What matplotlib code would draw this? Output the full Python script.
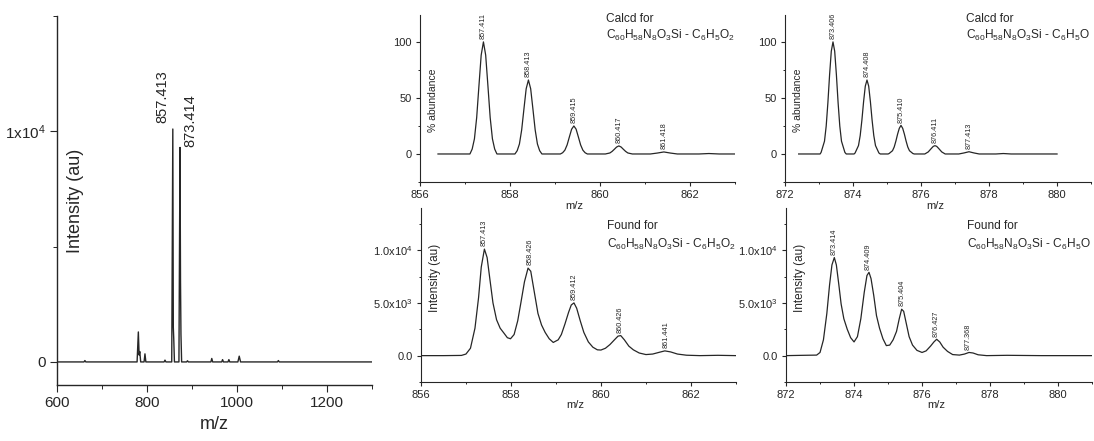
import matplotlib
matplotlib.use('Agg')
import matplotlib.pyplot as plt
from matplotlib.ticker import MultipleLocator

plt.rcParams['font.family'] = ['Liberation Sans', 'DejaVu Sans']
plt.rcParams['mathtext.fontset'] = 'custom'
plt.rcParams['mathtext.rm'] = 'Liberation Sans'
plt.rcParams['mathtext.default'] = 'regular'

ink = '#262626'

# --- full spectrum (left) ---
overview_mz = [600, 660, 662, 664, 778, 780.8, 782.5, 784, 786, 793.5, 795.5, 797.5,
               838, 840, 842, 855, 857.4, 858.5, 859.5, 861, 871, 873.4, 874.5, 875.5,
               877, 888, 890, 892, 942, 944, 946, 966, 968, 970, 980, 982, 984,
               1002, 1005, 1008, 1090, 1092, 1094, 1300]
overview_int = [0, 0, 60, 0, 0, 1300, 300, 450, 0, 0, 350, 0,
                0, 80, 0, 0, 10100, 1500, 1000, 0, 0, 9300, 3500, 1200,
                0, 0, 50, 0, 0, 150, 0, 0, 100, 0, 0, 100, 0,
                0, 250, 0, 0, 60, 0, 0]
overview_peaks = [857.413, 873.414]
overview_peak_int = [10100, 9300]

# --- calculated isotope pattern, M - C6H5O2 ---
calcd857_mz = [856.40, 857.00,
               857.11, 857.16, 857.21, 857.26, 857.31, 857.36, 857.41, 857.46, 857.51, 857.56, 857.61, 857.66, 857.71,
               858.11, 858.16, 858.21, 858.26, 858.31, 858.36, 858.41, 858.46, 858.51, 858.56, 858.61, 858.66, 858.71,
               859.12, 859.17, 859.22, 859.27, 859.32, 859.37, 859.42, 859.47, 859.52, 859.57, 859.62, 859.67, 859.72,
               860.12, 860.22, 860.27, 860.32, 860.37, 860.42, 860.47, 860.52, 860.57, 860.62, 860.72,
               861.12, 861.27, 861.42, 861.57, 861.72,
               862.20, 862.42, 862.65, 863.40]
calcd857_ab = [0, 0,
               0, 4.4, 13.5, 32.5, 60.7, 88.2, 100, 88.2, 60.7, 32.5, 13.5, 4.4, 0,
               0, 2.9, 8.9, 21.5, 40.1, 58.2, 66, 58.2, 40.1, 21.5, 8.9, 2.9, 0,
               0, 1.1, 3.4, 8.1, 15.2, 22.1, 25, 22.1, 15.2, 8.1, 3.4, 1.1, 0,
               0, 0.9, 2.3, 4.2, 6.2, 7.2, 6.2, 4.2, 2.3, 0.9, 0,
               0, 0.8, 1.8, 0.8, 0,
               0, 0.4, 0, 0]
calcd857_peaks = [857.411, 858.413, 859.415, 860.417, 861.418]
calcd857_top = [100, 66, 25, 7.2, 1.8]

# --- calculated isotope pattern, M - C6H5O ---
calcd873_mz = [872.40, 873.03,
               873.06, 873.16, 873.21, 873.26, 873.31, 873.36, 873.41, 873.46, 873.51, 873.56, 873.61, 873.66, 873.76, 873.80,
               874.03, 874.06, 874.16, 874.21, 874.26, 874.31, 874.36, 874.41, 874.46, 874.51, 874.56, 874.61, 874.66, 874.76, 874.80,
               875.03, 875.06, 875.16, 875.21, 875.26, 875.31, 875.36, 875.41, 875.46, 875.51, 875.56, 875.61, 875.66, 875.76, 875.80,
               876.11, 876.21, 876.31, 876.36, 876.41, 876.46, 876.51, 876.61, 876.71,
               877.11, 877.26, 877.41, 877.56, 877.71,
               878.20, 878.42, 878.65, 880.00]
calcd873_ab = [0, 0,
               1.4, 11.4, 24.9, 45.8, 70.7, 91.7, 100, 91.7, 70.7, 45.8, 24.9, 11.4, 1.4, 0,
               0, 0.9, 7.5, 16.4, 30.2, 46.7, 60.5, 66, 60.5, 46.7, 30.2, 16.4, 7.5, 0.9, 0,
               0, 0.4, 2.9, 6.2, 11.5, 17.7, 22.9, 25.5, 22.9, 17.7, 11.5, 6.2, 2.9, 0.4, 0,
               0, 1.8, 5.2, 6.8, 7.4, 6.8, 5.2, 1.8, 0,
               0, 0.9, 2, 0.9, 0,
               0, 0.4, 0, 0]
calcd873_peaks = [873.406, 874.408, 875.410, 876.411, 877.413]
calcd873_top = [100, 66, 25.5, 7.4, 2]

# --- measured, M - C6H5O2 ---
found857_mz = [856.0, 856.5, 856.9, 857.0, 857.1, 857.2, 857.28, 857.34, 857.41, 857.47, 857.53, 857.6,
               857.68, 857.76, 857.85, 857.92, 857.99, 858.07, 858.15, 858.22, 858.3, 858.38, 858.44,
               858.52, 858.6, 858.68, 858.76, 858.85, 858.94, 859.05, 859.12, 859.2, 859.28, 859.34,
               859.4, 859.46, 859.54, 859.62, 859.72, 859.82, 859.92, 860.0, 860.1, 860.2, 860.3,
               860.38, 860.44, 860.52, 860.62, 860.72, 860.85, 861.0, 861.15, 861.3, 861.42, 861.55,
               861.7, 861.9, 862.2, 862.6, 863.0]
found857_int = [0, 0, 20, 150, 700, 2600, 5500, 8400, 10100, 9300, 7300, 5000,
                3400, 2600, 2100, 1700, 1600, 2000, 3300, 5000, 7000, 8300, 8000,
                6000, 4000, 2900, 2200, 1600, 1250, 1500, 2000, 3000, 4100, 4800,
                5000, 4500, 3300, 2200, 1300, 800, 550, 530, 700, 1050, 1500,
                1850, 1900, 1500, 900, 550, 250, 100, 150, 320, 450, 350,
                150, 40, 0, 30, 0]
found857_peaks = [857.413, 858.426, 859.412, 860.426, 861.441]
found857_top = [10100, 8300, 5000, 1900, 450]

# --- measured, M - C6H5O ---
found873_mz = [872.0, 872.5, 872.9, 873.0, 873.1, 873.2, 873.28, 873.35, 873.42, 873.48, 873.55, 873.62,
               873.7, 873.8, 873.9, 874.0, 874.1, 874.2, 874.3, 874.38, 874.44, 874.5, 874.58, 874.66,
               874.75, 874.85, 874.95, 875.05, 875.15, 875.25, 875.33, 875.4, 875.46, 875.54, 875.62,
               875.72, 875.85, 876.0, 876.12, 876.25, 876.35, 876.43, 876.52, 876.62, 876.75, 876.9,
               877.1, 877.25, 877.38, 877.5, 877.65, 877.9, 878.5, 879.5, 881.0]
found873_int = [0, 30, 50, 300, 1500, 4000, 6700, 8600, 9300, 8600, 6800, 4900,
                3500, 2500, 1700, 1300, 1800, 3500, 6000, 7600, 7900, 7300, 5700, 3800,
                2600, 1600, 950, 1000, 1500, 2300, 3500, 4400, 4200, 3000, 1800,
                1000, 500, 300, 450, 900, 1300, 1550, 1300, 800, 400, 100,
                50, 150, 300, 250, 80, 0, 30, 0, 0]
found873_peaks = [873.414, 874.409, 875.404, 876.427, 877.368]
found873_top = [9300, 7900, 4400, 1550, 300]

formula_a = 'C$_{60}$H$_{58}$N$_{8}$O$_{3}$Si - C$_{6}$H$_{5}$O$_{2}$'
formula_b = 'C$_{60}$H$_{58}$N$_{8}$O$_{3}$Si - C$_{6}$H$_{5}$O'


def frame(ax, xlim, ylim, xmaj, xmin, yticks, ylabels, ymin, fs, big=False):
    ax.set_facecolor('none')
    ax.set_xlim(*xlim)
    ax.set_ylim(*ylim)
    for s in ('top', 'right'):
        ax.spines[s].set_visible(False)
    for s in ('left', 'bottom'):
        ax.spines[s].set_color(ink)
        ax.spines[s].set_linewidth(1.0 if big else 0.8)
    ax.xaxis.set_major_locator(MultipleLocator(xmaj))
    ax.xaxis.set_minor_locator(MultipleLocator(xmin))
    ax.set_yticks(yticks)
    ax.set_yticklabels(ylabels)
    ax.yaxis.set_minor_locator(MultipleLocator(ymin))
    L = 5 if big else 3
    ax.tick_params(which='major', direction='out', length=L, width=0.8,
                   colors=ink, labelsize=fs, pad=3)
    ax.tick_params(which='minor', direction='out', length=L * 0.55, width=0.7, colors=ink)


fig = plt.figure(figsize=(10.94, 4.41), dpi=100)

# left: full spectrum
ax0 = fig.add_axes([0.0521, 0.1270, 0.2879, 0.8367])
ax0.plot(overview_mz, overview_int, color=ink, lw=1.0)
frame(ax0, (600, 1300), (-1000, 15000), 200, 100, [0, 10000], ['0', '1x10$^4$'], 5000, 11, big=True)
ax0.text(0.06, 0.50, 'Intensity (au)', transform=ax0.transAxes, rotation=90,
         ha='center', va='center', fontsize=13, color=ink)
ax0.text(0.5, -0.108, 'm/z', transform=ax0.transAxes, ha='center', va='center',
         fontsize=13, color=ink)
ax0.annotate('%.3f' % overview_peaks[0], (overview_peaks[0], overview_peak_int[0]),
             xytext=(-7.4, 4.5), textcoords='offset points', rotation=90,
             ha='center', va='bottom', fontsize=10.5, color=ink)
ax0.annotate('%.3f' % overview_peaks[1], (overview_peaks[1], overview_peak_int[1]),
             xytext=(7.6, 0), textcoords='offset points', rotation=90,
             ha='center', va='bottom', fontsize=10.5, color=ink)

panels = [
    ([0.3839, 0.5873, 0.2879, 0.3787], calcd857_mz, calcd857_ab, calcd857_peaks, calcd857_top,
     (856, 863), 'Calcd for', formula_a, True),
    ([0.7176, 0.5873, 0.2797, 0.3787], calcd873_mz, calcd873_ab, calcd873_peaks, calcd873_top,
     (872, 881), 'Calcd for', formula_b, True),
    ([0.3848, 0.1338, 0.2879, 0.3946], found857_mz, found857_int, found857_peaks, found857_top,
     (856, 863), 'Found for', formula_a, False),
    ([0.7185, 0.1338, 0.2797, 0.3946], found873_mz, found873_int, found873_peaks, found873_top,
     (872, 881), 'Found for', formula_b, False),
]

for rect, mz, val, pk, top, xlim, head, formula, calcd in panels:
    ax = fig.add_axes(rect)
    ax.plot(mz, val, color=ink, lw=0.9)
    if calcd:
        frame(ax, xlim, (-25, 124), 2, 1, [0, 50, 100], ['0', '50', '100'], 25, 8)
        ax.text(0.042, 0.49, '% abundance', transform=ax.transAxes, rotation=90,
                ha='center', va='center', fontsize=7.5, color=ink)
        ax.text(0.59, 1.014, head, transform=ax.transAxes, ha='left', va='top',
                fontsize=8.6, color=ink)
        ax.text(0.59, 0.92, formula, transform=ax.transAxes, ha='left', va='top',
                fontsize=8.6, color=ink)
        xl_y = -0.145
    else:
        frame(ax, xlim, (-2500, 14000), 2, 1, [0, 5000, 10000],
              ['0.0', '5.0x10$^3$', '1.0x10$^4$'], 2500, 8)
        ax.text(0.045, 0.60, 'Intensity (au)', transform=ax.transAxes, rotation=90,
                ha='center', va='center', fontsize=8.5, color=ink)
        ax.text(0.59, 0.93, head, transform=ax.transAxes, ha='left', va='top',
                fontsize=8.6, color=ink)
        ax.text(0.59, 0.835, formula, transform=ax.transAxes, ha='left', va='top',
                fontsize=8.6, color=ink)
        xl_y = -0.135
    ax.text(0.49, xl_y, 'm/z', transform=ax.transAxes, ha='center', va='center',
            fontsize=8, color=ink)
    for x, h in zip(pk, top):
        ax.annotate('%.3f' % x, (x, h), xytext=(0, 2), textcoords='offset points',
                    rotation=90, ha='center', va='bottom', fontsize=5.2, color=ink)

fig.savefig('out.png', dpi=100)
